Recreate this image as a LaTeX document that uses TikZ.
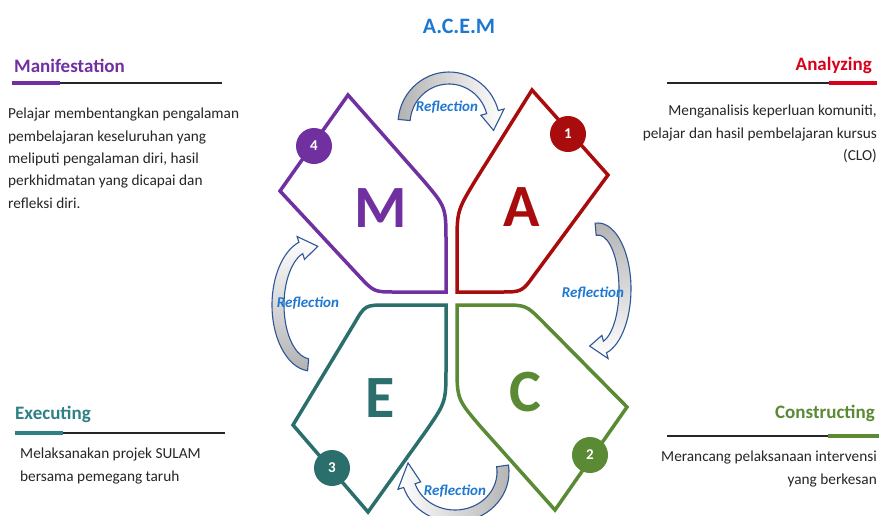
\documentclass[tikz,border=0pt]{standalone}
\usepackage{fontspec}
\setmainfont{Carlito}
\usetikzlibrary{positioning, calc}

\definecolor{manpurple}{HTML}{7030A0}
\definecolor{anared}{HTML}{A80C0C}
\definecolor{anahead}{HTML}{D9001B}
\definecolor{exeteal}{HTML}{2B6F6D}
\definecolor{exehead}{HTML}{2F8086}
\definecolor{congreen}{HTML}{5A8A33}
\definecolor{refblue}{HTML}{2F5597}
\definecolor{reftext}{HTML}{1E78D2}

\begin{document}
\begin{tikzpicture} [x = 1pt, y = -1pt,
  petal/.style = {line width = 3.5pt, line join = miter},
  badge/.style = {circle, fill = #1, text = white, minimum size = 36pt, inner sep = 0pt, font = \fontsize{15}{15}\selectfont\bfseries},
  letter/.style = {text = #1, font = \fontsize{60}{60}\selectfont\bfseries},
  heading/.style = {text = #1, font = \fontsize{19}{19}\selectfont\bfseries, inner sep = 0pt},
  body/.style = {font = \fontsize{15.3}{22.3}\selectfont, inner sep = 0pt, text = black!85},
  reflabel/.style = {text = reftext, font = \fontsize{15}{15}\selectfont\bfseries\itshape},
  arrowband/.style = {draw = refblue, line width = 1.1pt, top color = white, bottom color = black!30}]

\useasboundingbox (0,0) rectangle (879,515);
\fill [white] (0,0) rectangle (879,515);
\clip (0,0) rectangle (879,515);

\node (title) [text = reftext, font = \fontsize{22}{22}\selectfont\bfseries] at (459,26) {A.C.E.M};

% reflection arrows
\foreach \cx/\cy/\rx/\ry/\a/\m/\b/\sh in {449/124/45/46/185/345/368/-90, 598/289/27/60/-95/75/108/180, 455/472/48/44/-8/162/192/90, 311/305/33/60/95/252/282/0} {
  \pgfmathsetmacro{\rxo}{\rx+6}
  \pgfmathsetmacro{\ryo}{\ry+6}
  \pgfmathsetmacro{\rxi}{\rx-6}
  \pgfmathsetmacro{\ryi}{\ry-6}
  \pgfmathsetmacro{\rxh}{\rx+12}
  \pgfmathsetmacro{\ryh}{\ry+12}
  \pgfmathsetmacro{\rxl}{\rx-12}
  \pgfmathsetmacro{\ryl}{\ry-12}
  \begin{scope} [shift = {(\cx,\cy)}]
    \shadedraw [arrowband, shading angle = \sh]
      (\a:{\rxo} and {\ryo}) arc [start angle = \a, end angle = \m, x radius = \rxo, y radius = \ryo]
      -- (\m:{\rxh} and {\ryh}) -- (\b:{\rx} and {\ry}) -- (\m:{\rxl} and {\ryl}) -- (\m:{\rxi} and {\ryi})
      arc [start angle = \m, end angle = \a, x radius = \rxi, y radius = \ryi] -- cycle;
  \end{scope}
}

\node (r1) [reflabel] at (447,107) {Reflection};
\node (r2) [reflabel] at (593,293) {Reflection};
\node (r3) [reflabel] at (455,491) {Reflection};
\node (r4) [reflabel] at (308,303) {Reflection};

% petals
\draw [petal, manpurple] (348,95) -- (280,191) -- (359,276) .. controls (374,292) .. (396,292) -- (446,292) -- (446,242) .. controls (446,207) .. (423,180) -- cycle;
\draw [petal, anared] (532,90) -- (608,175) -- (535,274) .. controls (522,292) .. (500,292) -- (457,292) -- (457,246) .. controls (457,211) .. (475,181) -- cycle;
\draw [petal, exeteal] (446,305) -- (387,305) .. controls (365,305) .. (354,324) -- (293,425) -- (368,512) -- (426,431) .. controls (446,402) .. (446,367) -- cycle;
\draw [petal, congreen] (457,305) -- (502,305) .. controls (526,305) .. (543,322) -- (627,407) -- (555,510) -- (480,426) .. controls (457,399) .. (457,364) -- cycle;

\node (n4) [badge = manpurple] at (314,146) {4};
\node (n1) [badge = anared] at (568,134) {1};
\node (n3) [badge = exeteal] at (332,468) {3};
\node (n2) [badge = congreen] at (590,455) {2};

\node (lm) [letter = manpurple] at (381,208) {M};
\node (la) [letter = anared] at (522,207) {A};
\node (le) [letter = exeteal] at (380,398) {E};
\node (lc) [letter = congreen] at (525,392) {C};

% side texts
\node (manif) [heading = manpurple, anchor = base west] at (14,72) {Manifestation};
\draw [line width = 2.5pt, black!85] (12,83) -- (222,83);
\draw [line width = 4.5pt, manpurple] (12,83) -- (60,83);
\node (manifText) [body, align = left, anchor = north west] at (8,108) {Pelajar membentangkan pengalaman\\pembelajaran keseluruhan yang\\meliputi pengalaman diri, hasil\\perkhidmatan yang dicapai dan\\refleksi diri.};

\node (anal) [heading = anahead, anchor = base east] at (872,70) {Analyzing};
\draw [line width = 2.5pt, black!85] (667,83) -- (877,83);
\draw [line width = 4.5pt, anahead] (829,83) -- (877,83);
\node (analText) [body, align = right, anchor = north east] at (877,105) {Menganalisis keperluan komuniti,\\pelajar dan hasil pembelajaran kursus\\(CLO)};

\node (exec) [heading = exehead, anchor = base west] at (15,419) {Executing};
\draw [line width = 2.5pt, black!85] (15,433) -- (225,433);
\draw [line width = 4.5pt, exehead] (15,433) -- (63,433);
\node (execText) [body, align = left, anchor = north west] at (20,448) {Melaksanakan projek SULAM\\bersama pemegang taruh};

\node (cons) [heading = congreen, anchor = base east] at (875,418) {Constructing};
\draw [line width = 2.5pt, black!85] (667,436) -- (879,436);
\draw [line width = 4.5pt, congreen] (828,436) -- (879,436);
\node (consText) [body, align = right, anchor = north east] at (877,451) {Merancang pelaksanaan intervensi\\yang berkesan};

\end{tikzpicture}
\end{document}
